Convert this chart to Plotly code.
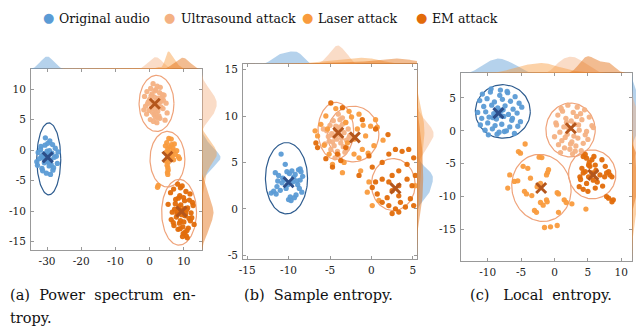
import numpy as np
import plotly.graph_objects as go

# page has an 8px body margin: draw a 636x327 figure so it ends exactly at the 644x335 viewport
OX, OY = 8, 8
W, H = 644 - OX, 335 - OY
SERIF = "DejaVu Serif"

GROUPS = ["Original audio", "Ultrasound attack", "Laser attack", "EM attack"]
PT_COLORS = ["#5B9BD5", "#F4B183", "#F99B3D", "#E26B0A"]
ELL_COLORS = ["#2E5C8F", "#EFA37A", "#EFA37A", "#EFA37A"]
CENT_COLORS = ["#2C4E8A", "#B4561C", "#B4561C", "#B4561C"]

# ---------------- panel (a) power spectrum entropy ----------------
a_orig_x = [-30.5,-29.2,-31.8,-28.4,-30.0,-32.6,-27.3,-29.7,-31.1,-28.9,-30.8,-29.4,-26.8,-33.0,-31.5,-28.1,-30.2,-29.0,-31.9,-27.9,
            -30.6,-29.8,-32.2,-28.6,-30.9,-29.5,-27.0,-31.3,-30.3,-28.8,-29.9,-31.0,-32.8,-27.6,-30.1,-29.3,-30.7,-28.3,-31.6,-29.6]
a_orig_y = [2.0,1.5,0.6,0.9,-0.2,-0.4,-1.0,-0.8,-1.3,-1.6,-2.1,-2.6,-0.3,-1.9,-3.0,-2.9,-3.8,-4.0,0.1,-1.2,
            0.8,1.1,-1.4,-0.5,-0.9,-1.9,-2.2,-3.4,-1.0,-2.4,-1.5,-0.6,-2.5,0.3,-1.7,-0.1,-1.1,-3.3,-1.0,-2.0]
a_ultra_x = [1.0,2.2,0.3,3.1,-0.8,1.8,2.9,0.7,-1.5,4.2,1.4,2.5,0.0,3.6,-0.4,1.9,2.8,0.9,4.8,-1.2,
             1.2,3.3,0.5,2.0,1.6,-0.2,3.9,2.4,0.8,1.3,5.1,-0.9,2.7,1.7,3.0,0.2,1.1,2.1,4.5,-1.7,
             0.6,3.4,1.5,2.6,-0.6,4.0,1.9,0.4,2.3,3.7]
a_ultra_y = [10.9,10.5,10.1,10.3,9.6,9.9,9.4,9.2,8.8,9.0,8.7,8.5,8.3,8.6,7.9,8.1,7.8,7.5,7.7,7.2,
             7.4,7.1,6.9,7.3,6.7,6.5,6.8,6.4,6.2,5.8,6.1,5.9,5.6,5.4,5.2,5.0,4.7,4.5,4.9,6.6,
             7.9,8.0,9.7,7.0,7.6,8.2,6.0,8.9,5.3,9.1]
a_laser_x = [5.6,6.3,5.0,7.2,4.6,5.9,6.8,5.3,7.9,4.9,6.1,5.5,7.5,6.6,8.4,5.2,6.0,7.0,4.7,5.8,
             6.4,8.7,5.4,6.9,5.1,5.3,5.4,5.2,5.3,2.5,2.3]
a_laser_y = [1.9,1.8,1.2,1.0,0.7,0.5,0.3,0.2,-0.1,-0.3,-0.4,-0.6,-0.7,-1.0,-1.1,-1.3,-1.5,-1.6,-1.8,-0.9,
             0.9,-1.4,-2.0,-0.2,-2.5,-2.9,-3.3,-3.7,-4.0,-5.8,-6.1]
a_em_x = [8.2,9.5,7.0,10.6,6.1,11.8,8.8,9.9,7.6,10.2,12.5,5.4,9.1,8.5,11.1,7.3,10.8,9.6,6.6,12.1,
          8.0,9.3,10.4,7.8,11.5,6.3,9.0,10.0,8.7,13.0,7.1,9.7,11.3,8.3,10.9,6.9,12.7,9.4,8.1,10.5,
          7.5,11.9,9.2,10.1,8.9,9.8,10.7,11.0,9.6,10.3,8.4,11.6,10.2,12.3,9.0]
a_em_y = [-5.6,-5.9,-6.4,-6.8,-7.0,-7.2,-7.5,-7.8,-8.1,-8.3,-8.6,-8.9,-9.0,-9.3,-9.5,-9.7,-9.8,-10.0,-10.2,-10.3,
          -10.5,-10.6,-10.8,-11.0,-11.2,-11.4,-11.6,-11.8,-12.0,-12.2,-12.4,-12.6,-12.8,-13.0,-13.2,-11.9,-9.1,-9.9,-10.1,-10.4,
          -8.8,-11.6,-10.0,-9.6,-12.9,-13.7,-14.1,-14.4,-14.2,-13.5,-7.9,-8.2,-10.7,-11.1,-6.2]
a_cent_x = [-29.8, 1.5, 5.2, 9.3]
a_cent_y = [-1.2, 7.6, -1.1, -10.1]
a_ell_cx = [-29.5, 2.0, 5.2, 8.6]
a_ell_cy = [-1.45, 7.65, -1.5, -10.2]
a_ell_rx = [3.5, 5.1, 5.1, 5.1]
a_ell_ry = [5.9, 4.6, 4.56, 5.4]
a_ell_ang = [0, 0, 0, 0]
a_xticks = [-30, -20, -10, 0, 10]
a_xlabels = ["-30", "-20", "-10", "0", "10"]
a_yticks = [10, 5, 0, -5, -10, -15]
a_ylabels = ["10", "5", "0", "-5", "-10", "-15"]

# ---------------- panel (b) sample entropy ----------------
b_orig_x = [-10.9,-10.4,-11.6,-11.2,-10.7,-9.9,-9.6,-9.2,-8.8,-8.5,-8.3,-8.6,-8.9,-9.5,-10.1,-10.3,-11.0,-11.4,-12.1,-11.8,
            -11.5,-10.0,-9.8,-9.7,-9.3,-8.4,-8.7,-9.0,-10.5,-10.8,-9.4,-10.2,-11.3,-9.1,-8.6]
b_orig_y = [5.9,4.8,3.9,3.6,3.3,3.8,4.1,3.7,4.2,4.0,3.5,3.1,2.6,2.9,2.6,2.2,2.0,2.4,1.7,1.9,
            1.6,1.0,1.3,0.9,1.2,1.8,2.2,3.0,3.1,2.8,3.4,4.0,3.0,1.5,4.3]
b_ultra_x = [-4.0,-3.5,-4.6,-3.1,-5.0,-4.3,-3.8,-2.8,-5.4,-4.1,-3.3,-4.8,-3.9,-2.6,-5.2,-4.4,-3.6,-4.2,-3.0,-4.7,
             -3.7,-5.6,-4.5,-3.4,-2.9,-4.9,-3.2,-4.0,-5.8,-3.5,-4.3,-2.7,-4.6,-3.9,-5.1,-4.1,-3.8,-4.4]
b_ultra_y = [10.2,9.8,9.5,9.3,9.0,8.9,8.7,8.6,8.4,8.3,8.2,8.1,8.0,7.9,7.8,7.7,7.6,7.5,7.4,7.2,
             7.1,7.0,6.8,6.7,6.5,6.4,6.1,5.8,8.6,9.1,8.5,7.7,7.9,8.8,7.3,6.2,9.6,5.5]
b_laser_x = [-6.5,-5.3,-5.7,-5.1,-4.7,-3.5,-1.5,-2.1,-1.1,0.3,0.7,0.5,-1.5,-2.7,-4.3,-5.5,-6.1,-0.7,-0.1,-1.7,
             -2.1,-2.9,-3.1,-0.3,-0.5,0.1,0.9,-1.3,5.3,-1.0,-2.4,-0.4,-3.3,1.4,-6.8]
b_laser_y = [7.85,8.6,6.85,5.9,4.8,3.9,5.5,5.9,6.4,6.8,8.8,9.6,10.2,10.5,10.8,10.0,9.1,7.85,8.9,8.6,
             7.5,7.1,9.3,2.9,1.8,0.35,0.9,4.1,2.5,9.0,9.9,6.0,5.0,7.4,8.4]
b_em_x = [0.1,1.3,2.1,2.9,3.7,4.5,5.1,4.3,3.3,2.5,1.3,0.5,0.1,0.7,1.3,2.1,2.9,3.5,4.1,4.7,
          4.9,4.3,3.3,2.5,2.1,3.3,1.9,3.3,2.5,5.1,5.3,-4.9,-3.5,-6.7,-6.5,-5.5,-4.7,-1.5,2.0,0.5,
          -1.1,-0.3,-3.1,-4.1,-3.7]
b_em_y = [4.5,5.0,5.9,6.4,6.2,6.4,5.5,4.8,4.1,3.6,3.2,2.9,2.3,1.6,0.7,0.35,0.0,0.7,0.2,1.1,
          2.5,3.2,2.5,1.95,2.9,1.4,1.2,-0.35,-0.5,0.35,3.6,11.4,10.9,7.1,6.6,5.4,4.5,3.6,8.0,8.6,
          9.6,5.7,6.6,5.9,5.2]
b_cent_x = [-10.0, -4.0, -2.0, 2.9]
b_cent_y = [2.86, 8.2, 7.7, 2.2]
b_ell_cx = [-10.25, -4.3, -2.2, 2.64]
b_ell_cy = [3.3, 8.4, 8.06, 2.62]
b_ell_rx = [2.54, 2.15, 3.1, 2.64]
b_ell_ry = [3.84, 3.07, 3.0, 2.8]
b_ell_ang = [0, 0, 0, 0]
b_xticks = [-15, -10, -5, 0, 5]
b_xlabels = ["-15", "-10", "-5", "0", "5"]
b_yticks = [15, 10, 5, 0, -5]
b_ylabels = ["15", "10", "5", "0", "-5"]

# ---------------- panel (c) local entropy ----------------
c_orig_x = [-10.8,-9.6,-8.2,-7.0,-5.9,-11.2,-10.1,-9.0,-7.8,-6.6,-5.3,-10.6,-9.4,-8.5,-7.4,-6.2,-4.9,-11.5,-10.3,-9.1,
            -8.0,-6.9,-5.6,-10.9,-9.8,-8.7,-7.6,-6.4,-5.1,-11.1,-10.0,-8.9,-7.9,-6.7,-5.5,-10.4,-9.3,-8.3,-7.2,-6.0,
            -9.9,-8.6,-7.5,-6.3,-9.5,-8.1,-7.1,-8.8,-8.4,-8.0,-9.2,-7.7]
c_orig_y = [5.6,5.9,5.4,5.8,5.2,4.6,4.9,4.4,4.8,4.5,4.2,3.7,3.9,3.5,3.8,3.3,3.6,2.8,2.9,2.6,
            3.1,2.5,2.7,1.9,2.1,1.8,2.2,1.6,1.4,0.9,1.2,0.8,1.0,0.6,0.7,0.1,0.3,-0.2,0.0,-0.4,
            -0.6,-0.5,-0.1,1.9,6.4,6.2,6.0,2.4,2.9,2.3,2.0,3.2]
c_ultra_x = [2.0,3.4,4.5,1.2,2.8,0.5,3.9,5.2,1.7,2.5,4.1,0.2,3.0,5.6,1.4,2.2,3.7,0.8,4.8,1.9,
             2.9,0.0,3.5,5.0,1.1,2.6,4.3,0.6,3.2,1.5,2.3,4.0,5.8,0.9,2.7,1.8,3.3,0.3,4.6,1.6,
             2.1,3.6,1.0,2.4,3.1]
c_ultra_y = [3.9,3.6,3.2,3.0,2.8,2.4,2.6,2.1,1.9,1.5,1.7,1.2,1.0,0.8,0.6,0.3,0.1,-0.2,-0.1,-0.5,
             -0.8,-0.9,-1.1,-1.3,-1.5,-1.7,-1.9,-2.1,-2.3,-2.6,-2.8,-3.0,0.5,-3.3,-3.5,1.3,2.2,0.9,-0.6,-1.0,
             0.5,0.9,3.4,-2.0,-3.1]
c_laser_x = [-5.4,-5.1,-4.4,-6.7,-7.0,-6.0,-5.5,-4.7,-4.0,-2.3,-1.9,-4.5,-4.2,-3.4,-3.6,-1.05,-0.9,-1.2,-2.1,-2.6,
             -3.0,-2.7,-2.1,-1.7,-1.2,-1.1,0.4,0.6,0.6,1.45,1.75,2.6,-1.5,-0.6,0.4,4.7]
c_laser_y = [-3.15,-3.4,-2.0,-6.7,-8.7,-7.7,-7.6,-5.4,-5.7,-4.0,-4.06,-9.2,-9.6,-9.85,-7.2,-6.35,-5.9,-6.7,-8.0,-8.5,
             -12.1,-12.4,-10.9,-11.3,-10.5,-10.8,-9.4,-9.6,-12.4,-10.5,-10.9,-11.1,-14.7,-14.6,-14.4,-11.9]
c_em_x = [4.3,4.8,5.6,5.9,5.1,4.1,4.6,5.3,6.1,3.8,4.3,5.1,3.7,4.8,5.8,7.1,8.1,8.3,8.6,7.6,
          7.8,6.1,6.8,7.8,8.1,8.6,8.8,4.6,5.2,6.4,3.9,7.2,5.6,6.2,4.3,7.5,5.0]
c_em_y = [-3.9,-4.15,-4.4,-3.9,-5.2,-5.7,-6.2,-5.4,-5.2,-7.0,-6.4,-7.0,-8.5,-8.0,-7.5,-4.4,-6.2,-6.7,-7.0,-5.4,
          -6.4,-8.7,-6.7,-10.0,-10.25,-10.8,-10.5,-3.6,-4.8,-7.8,-7.4,-8.4,-6.4,-6.0,-8.9,-7.0,-9.2]
c_cent_x = [-8.4, 2.45, -2.0, 5.8]
c_cent_y = [2.7, 0.4, -8.7, -6.7]
c_ell_cx = [-7.74, 2.4, -1.96, 5.64]
c_ell_cy = [2.95, 0.12, -8.68, -6.62]
c_ell_rx = [4.11, 3.69, 4.41, 3.54]
c_ell_ry = [4.07, 4.1, 5.13, 3.73]
c_ell_ang = [0, 0, 12, 10]
c_xticks = [-10, -5, 0, 5, 10]
c_xlabels = ["-10", "-5", "0", "5", "10"]
c_yticks = [5, 0, -5, -10, -15]
c_ylabels = ["5", "0", "-5", "-10", "-15"]

NB = "\u00a0"
captions = ["(a)" + NB * 2 + "Power" + NB * 2 + "spectrum" + NB * 2 + "en-", "tropy.",
            "(b)" + NB * 2 + "Sample entropy.", "(c)" + NB * 3 + "Local" + NB * 2 + "entropy."]

panels = [
    dict(pts=[(a_orig_x, a_orig_y), (a_ultra_x, a_ultra_y), (a_laser_x, a_laser_y), (a_em_x, a_em_y)],
         cent=(a_cent_x, a_cent_y), ell=(a_ell_cx, a_ell_cy, a_ell_rx, a_ell_ry, a_ell_ang),
         xr=[-34.7, 15.3], yr=[-16.4, 13.3], xt=(a_xticks, a_xlabels), yt=(a_yticks, a_ylabels),
         box=(31, 202, 69, 250), top=50, right=222),
    dict(pts=[(b_orig_x, b_orig_y), (b_ultra_x, b_ultra_y), (b_laser_x, b_laser_y), (b_em_x, b_em_y)],
         cent=(b_cent_x, b_cent_y), ell=(b_ell_cx, b_ell_cy, b_ell_rx, b_ell_ry, b_ell_ang),
         xr=[-15.5, 5.5], yr=[-5.4, 15.6], xt=(b_xticks, b_xlabels), yt=(b_yticks, b_ylabels),
         box=(243, 417, 64, 259), top=44, right=435),
    dict(pts=[(c_orig_x, c_orig_y), (c_ultra_x, c_ultra_y), (c_laser_x, c_laser_y), (c_em_x, c_em_y)],
         cent=(c_cent_x, c_cent_y), ell=(c_ell_cx, c_ell_cy, c_ell_rx, c_ell_ry, c_ell_ang),
         xr=[-14.0, 11.6], yr=[-19.8, 8.8], xt=(c_xticks, c_xlabels), yt=(c_yticks, c_ylabels),
         box=(461, 632, 73, 261), top=55, right=644),
]


def fx(p):
    return min(1.0, max(0.0, (p - OX) / W))


def fy(p):
    return min(1.0, max(0.0, 1 - (p - OY) / H))


def kde(vals, grid):
    v = np.asarray(vals, dtype=float)
    h = 1.06 * v.std(ddof=1) * len(v) ** (-0.2)
    z = (grid[:, None] - v[None, :]) / h
    return np.exp(-0.5 * z * z).sum(1) / (len(v) * h * np.sqrt(2 * np.pi))


def ellipse(cx, cy, rx, ry, ang):
    t = np.linspace(0, 2 * np.pi, 121)
    a = np.deg2rad(ang)
    x = cx + rx * np.cos(t) * np.cos(a) - ry * np.sin(t) * np.sin(a)
    y = cy + rx * np.cos(t) * np.sin(a) + ry * np.sin(t) * np.cos(a)
    return x, y


def rgba(hexc, a):
    hexc = hexc.lstrip("#")
    r, g, b = int(hexc[0:2], 16), int(hexc[2:4], 16), int(hexc[4:6], 16)
    return f"rgba({r},{g},{b},{a})"


fig = go.Figure()
layout = dict(template="none", width=W, height=H, margin=dict(l=0, r=0, t=0, b=0, pad=0), autosize=False,
              paper_bgcolor="white", plot_bgcolor="white", showlegend=False,
              font=dict(family=SERIF, color="#222"))

tickfont = dict(family=SERIF, size=10.5, color="#222")

for i, P in enumerate(panels):
    m, t_, r_ = 3 * i + 1, 3 * i + 2, 3 * i + 3
    sfx = lambda k: "" if k == 1 else str(k)
    x0, x1, y0, y1 = P["box"]

    common = dict(ticks="inside", ticklen=3, tickcolor="#999", showline=True, linecolor="#999", linewidth=1,
                  mirror="ticks", showgrid=False, zeroline=False, tickfont=tickfont, automargin=False)
    layout["xaxis" + sfx(m)] = dict(domain=[fx(x0), fx(x1)], anchor="y" + sfx(m), range=P["xr"],
                                    tickvals=P["xt"][0], ticktext=P["xt"][1], ticklabelstandoff=1, **common)
    layout["yaxis" + sfx(m)] = dict(domain=[fy(y1), fy(y0)], anchor="x" + sfx(m), range=P["yr"],
                                    tickvals=P["yt"][0], ticktext=P["yt"][1], ticklabelstandoff=2, **common)

    gx = np.linspace(P["xr"][0], P["xr"][1], 300)
    gy = np.linspace(P["yr"][0], P["yr"][1], 300)
    dxs = [kde(px, gx) for px, _ in P["pts"]]
    dys = [kde(py, gy) for _, py in P["pts"]]
    mx = max(d.max() for d in dxs)
    my = max(d.max() for d in dys)

    hid = dict(visible=False, automargin=False, showgrid=False, zeroline=False)
    layout["xaxis" + sfx(t_)] = dict(domain=[fx(x0), fx(x1)], anchor="y" + sfx(t_), range=P["xr"], **hid)
    layout["yaxis" + sfx(t_)] = dict(domain=[fy(y0), fy(P["top"])], anchor="x" + sfx(t_), range=[0, mx * 1.08], **hid)
    layout["xaxis" + sfx(r_)] = dict(domain=[fx(x1), fx(P["right"])], anchor="y" + sfx(r_),
                                     range=[0, my * 1.08], **hid)
    layout["yaxis" + sfx(r_)] = dict(domain=[fy(y1), fy(y0)], anchor="x" + sfx(r_), range=P["yr"], **hid)

    for g in range(4):
        fig.add_trace(go.Scatter(x=gx, y=dxs[g], mode="lines", fill="tozeroy",
                                 fillcolor=rgba(PT_COLORS[g], 0.45), line=dict(color=rgba(PT_COLORS[g], 0), width=0),
                                 xaxis="x" + sfx(t_), yaxis="y" + sfx(t_), hoverinfo="skip"))
        fig.add_trace(go.Scatter(x=dys[g], y=gy, mode="lines", fill="tozerox",
                                 fillcolor=rgba(PT_COLORS[g], 0.45), line=dict(color=rgba(PT_COLORS[g], 0), width=0),
                                 xaxis="x" + sfx(r_), yaxis="y" + sfx(r_), hoverinfo="skip"))

    cxs, cys, rxs, rys, angs = P["ell"]
    for g in range(4):
        ex, ey = ellipse(cxs[g], cys[g], rxs[g], rys[g], angs[g])
        fig.add_trace(go.Scatter(x=ex, y=ey, mode="lines", line=dict(color=ELL_COLORS[g], width=1.2),
                                 xaxis="x" + sfx(m), yaxis="y" + sfx(m), hoverinfo="skip"))
    for g in range(4):
        px, py = P["pts"][g]
        fig.add_trace(go.Scatter(x=px, y=py, mode="markers", name=GROUPS[g],
                                 marker=dict(color=PT_COLORS[g], size=5.3, opacity=0.95, line=dict(width=0)),
                                 xaxis="x" + sfx(m), yaxis="y" + sfx(m)))
    for g in range(4):
        fig.add_trace(go.Scatter(x=[P["cent"][0][g]], y=[P["cent"][1][g]], mode="markers",
                                 marker=dict(symbol="x-thin", size=10, line=dict(color=CENT_COLORS[g], width=3)),
                                 xaxis="x" + sfx(m), yaxis="y" + sfx(m), hoverinfo="skip"))

annotations = []
leg_dot_px = [48, 169, 307, 421]
leg_txt_px = [57, 179, 316, 430]
for g in range(4):
    annotations.append(dict(x=fx(leg_dot_px[g]), y=fy(17), xref="paper", yref="paper", text="●",
                            showarrow=False, xanchor="center", yanchor="middle", align="center",
                            font=dict(family="DejaVu Sans", size=13, color=PT_COLORS[g])))
    annotations.append(dict(x=fx(leg_txt_px[g]), y=fy(19), xref="paper", yref="paper", text=GROUPS[g],
                            showarrow=False, xanchor="left", yanchor="middle", align="left",
                            font=dict(family=SERIF, size=12.5, color="#111")))

cap_pos = [(7, 295), (7, 318), (242, 295), (468, 295)]
for txt, (cx, cy) in zip(captions, cap_pos):
    annotations.append(dict(x=fx(cx), y=fy(cy), xref="paper", yref="paper", text=txt, showarrow=False,
                            xanchor="left", yanchor="middle", align="left",
                            font=dict(family=SERIF, size=14.5, color="#111")))

layout["annotations"] = annotations
fig.update_layout(**layout)
fig.write_html("out.html")
